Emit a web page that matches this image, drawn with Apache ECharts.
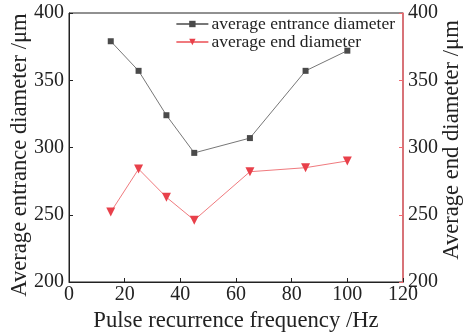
<!DOCTYPE html>
<html>
<head>
<meta charset="utf-8">
<script src="https://cdn.jsdelivr.net/npm/echarts@6/dist/echarts.min.js"></script>
<style>
  html, body { margin: 0; padding: 0; background: #fff; }
  #chart { width: 472px; height: 333px; }
</style>
</head>
<body>
<div id="chart"></div>
<script>
const frequency = [15, 25, 35, 45, 65, 85, 100];
const entranceDiameter = [379, 357, 324, 296, 307, 357, 372];
const endDiameter = [252, 284, 263, 246, 282, 285, 290];
const seriesNames = ["average entrance diameter", "average end diameter"];

const FONT = "Liberation Serif";
const BLACK = "#222";
const RED = "#e8404a";
const AXIS_RED = "#f06a70";

const chart = echarts.init(document.getElementById("chart"));

const yCommon = {
  type: "value",
  min: 200,
  max: 400,
  interval: 50,
  axisLabel: { fontFamily: FONT, fontSize: 20, color: BLACK, margin: 5 },
  splitLine: { show: false },
};

chart.setOption({
  animation: false,
  backgroundColor: "#fff",
  grid: {
    left: 69,
    right: 69,
    top: 13,
    bottom: 51,
    outerBoundsMode: "none",
    show: true,
    borderColor: BLACK,
    borderWidth: 1,
  },
  legend: {
    top: 15,
    right: 77,
    padding: 0,
    orient: "vertical",
    itemGap: 0,
    itemWidth: 32,
    itemHeight: 8,
    textStyle: { fontFamily: FONT, fontSize: 17.5, color: BLACK, padding: [0, 0, 0, -2] },
    data: seriesNames,
  },
  // rotated y-axis titles placed by hand
  graphic: [
    {
      type: "text",
      x: 20,
      y: 155,
      rotation: Math.PI / 2,
      style: {
        text: "Average entrance diameter /μm",
        font: "22.6px " + FONT,
        fill: BLACK,
        align: "center",
        verticalAlign: "middle",
      },
    },
    {
      type: "text",
      x: 452,
      y: 140,
      rotation: Math.PI / 2,
      style: {
        text: "Average end diameter /μm",
        font: "22.6px " + FONT,
        fill: BLACK,
        align: "center",
        verticalAlign: "middle",
      },
    },
  ],
  xAxis: {
    type: "value",
    min: 0,
    max: 120,
    interval: 20,
    name: "Pulse recurrence frequency /Hz",
    nameLocation: "middle",
    nameGap: 25,
    nameTextStyle: { fontFamily: FONT, fontSize: 22.7, color: BLACK },
    axisLine: { lineStyle: { color: BLACK } },
    axisTick: { inside: true, length: 4, lineStyle: { color: BLACK } },
    axisLabel: { fontFamily: FONT, fontSize: 20, color: BLACK, margin: 3 },
    splitLine: { show: false },
  },
  yAxis: [
    Object.assign({}, yCommon, {
      position: "left",
      axisLine: { show: true, lineStyle: { color: BLACK } },
      axisTick: { show: true, inside: true, length: 4, lineStyle: { color: BLACK } },
    }),
    Object.assign({}, yCommon, {
      position: "right",
      axisLine: { show: true, lineStyle: { color: AXIS_RED, width: 1.5 } },
      axisTick: { show: true, inside: true, length: 4, lineStyle: { color: AXIS_RED } },
    }),
  ],
  series: [
    {
      name: seriesNames[0],
      type: "line",
      yAxisIndex: 0,
      data: frequency.map((f, i) => [f, entranceDiameter[i]]),
      symbol: "rect",
      symbolSize: 6,
      itemStyle: { color: "#4a4a4a" },
      lineStyle: { color: "#777", width: 1 },
    },
    {
      name: seriesNames[1],
      type: "line",
      yAxisIndex: 1,
      data: frequency.map((f, i) => [f, endDiameter[i]]),
      symbol: "triangle",
      symbolRotate: 180,
      symbolSize: 9,
      itemStyle: { color: RED },
      lineStyle: { color: "#f07a7e", width: 1 },
    },
  ],
});
</script>
</body>
</html>
